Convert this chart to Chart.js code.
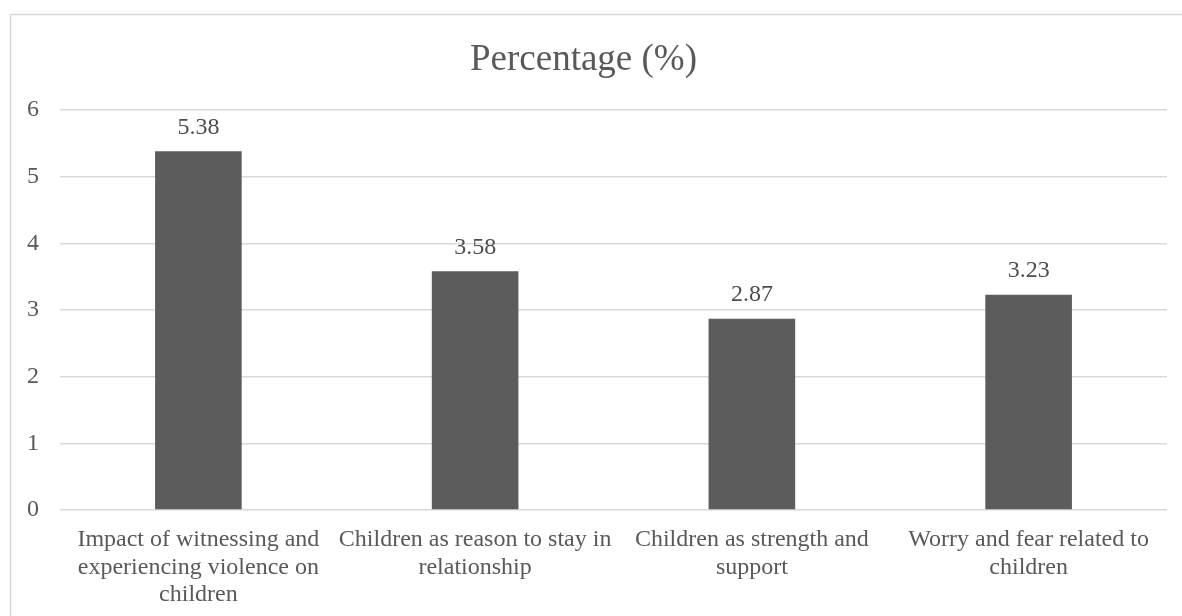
<!DOCTYPE html>
<html>
<head>
<meta charset="utf-8">
<script src="https://cdn.jsdelivr.net/npm/chart.js@4"></script>
<style>
  html, body { margin: 0; padding: 0; background: #fff; overflow: hidden; }
</style>
</head>
<body>
<canvas id="myChart" width="1182" height="616"></canvas>
<script>
// Categories and values
const categories = [
    ['Impact of witnessing and', 'experiencing violence on', 'children'],
    ['Children as reason to stay in', 'relationship'],
    ['Children as strength and', 'support'],
    ['Worry and fear related to', 'children']
];
const percentages = [5.38, 3.58, 2.87, 3.23];
const yTicks = [0, 1, 2, 3, 4, 5, 6];

const serif = "'Liberation Serif', 'Times New Roman', serif";

// outer frame of the chart (cropped on the right and bottom)
const frame = {
    id: 'frame',
    beforeDraw(chart) {
        const ctx = chart.ctx;
        ctx.save();
        ctx.strokeStyle = '#d9d9d9';
        ctx.lineWidth = 1.5;
        ctx.strokeRect(10.5, 14.5, 2000, 2000);
        ctx.restore();
    }
};

// value labels above each bar
const valueLabels = {
    id: 'valueLabels',
    afterDatasetsDraw(chart) {
        const ctx = chart.ctx;
        const meta = chart.getDatasetMeta(0);
        ctx.save();
        ctx.font = '24px ' + serif;
        ctx.fillStyle = '#4d4d4d';
        ctx.textAlign = 'center';
        ctx.textBaseline = 'middle';
        meta.data.forEach(function (bar, i) {
            ctx.fillText(percentages[i].toFixed(2), bar.x, bar.y - 24);
        });
        ctx.restore();
    }
};

const data = {
    labels: categories,
    datasets: [{
        label: 'Percentage (%)',
        backgroundColor: '#5c5c5c',
        data: percentages,
        categoryPercentage: 1,
        barPercentage: 0.313
    }]
};

const config = {
    type: 'bar',
    data: data,
    options: {
        responsive: false,
        animation: false,
        layout: { padding: { left: 0, right: 15, top: 0, bottom: 0 } },
        plugins: {
            legend: { display: false },
            tooltip: { enabled: false },
            title: {
                display: true,
                text: 'Percentage (%)',
                color: '#595959',
                font: { family: serif, size: 37, weight: 'normal', lineHeight: 1.2 },
                padding: { top: 38, bottom: 27.6 }
            }
        },
        scales: {
            x: {
                afterFit(scale) { scale.height = 106; },
                grid: { display: false, drawTicks: false, tickLength: 0 },
                border: { display: false },
                ticks: {
                    color: '#595959',
                    font: { family: serif, size: 24, lineHeight: 1.15 },
                    padding: 16,
                    maxRotation: 0,
                    autoSkip: false
                }
            },
            y: {
                min: 0,
                max: 6,
                afterFit(scale) { scale.width = 60; },
                afterBuildTicks(scale) { scale.ticks = yTicks.map(v => ({ value: v })); },
                grid: { color: '#d9d9d9', lineWidth: 1.5, drawTicks: false },
                border: { display: false },
                ticks: {
                    color: '#595959',
                    font: { family: serif, size: 24 },
                    padding: 21
                }
            }
        }
    },
    plugins: [frame, valueLabels]
};

const myChart = new Chart(document.getElementById('myChart'), config);
</script>
</body>
</html>
